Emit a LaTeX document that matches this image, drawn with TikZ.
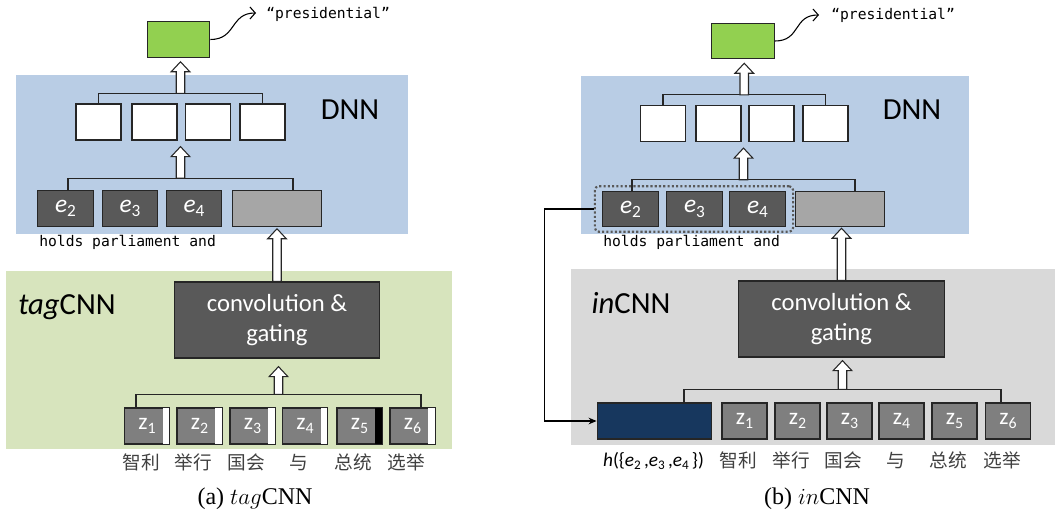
\documentclass[tikz,border=0pt]{standalone}
\usepackage{fontspec}
\setsansfont{Carlito}
\setmonofont{DejaVu Sans Mono}
\newfontfamily\cjk{Noto Sans CJK SC}
\newfontfamily\capfont{Liberation Serif}
\usetikzlibrary{positioning,calc,arrows.meta,fit}
\definecolor{dnnblue}{HTML}{B9CDE5}
\definecolor{tagbg}{HTML}{D7E4BD}
\definecolor{inbg}{HTML}{D9D9D9}
\definecolor{darkbox}{HTML}{595959}
\definecolor{midbox}{HTML}{A6A6A6}
\definecolor{zgray}{HTML}{7F7F7F}
\definecolor{outgreen}{HTML}{92D050}
\definecolor{hblue}{HTML}{17375E}
\definecolor{edge}{HTML}{262626}
\newcommand\idx[2]{#1\raisebox{-.35ex}{\scalebox{.68}{#2}}}
\newcommand\fatarrow[2]{\draw[fatarr] let \p1=(#1), \p2=(#2) in (\x1-3.2pt,\y1) -- (\x1-3.2pt,\y2-7.5pt) -- (\x1-7pt,\y2-7.5pt) -- (\x1,\y2) -- (\x1+7pt,\y2-7.5pt) -- (\x1+3.2pt,\y2-7.5pt) -- (\x1+3.2pt,\y1) -- cycle;}
\tikzset{
    every node/.style={font=\sffamily},
    box/.style={draw=edge, line width=0.9pt, inner sep=0pt, minimum height=27pt},
    outbox/.style={box, fill=outgreen, minimum width=47pt, minimum height=26.5pt},
    hidbox/.style={box, fill=white, minimum width=33.75pt},
    embbox/.style={box, fill=darkbox, text=white, minimum height=26.5pt, minimum width=41.5pt, font=\sffamily\fontsize{19}{19}\selectfont},
    ctxbox/.style={box, fill=midbox, minimum height=26.5pt, minimum width=67pt},
    convbox/.style={box, fill=darkbox, text=white, align=center, minimum width=154pt, minimum height=57pt, font=\sffamily\fontsize{18.5}{22}\selectfont},
    wordbox/.style={box, fill=zgray, text=white, minimum width=33.75pt, font=\sffamily\fontsize{17.5}{17.5}\selectfont},
    hbox/.style={box, fill=hblue, minimum width=86pt},
    title/.style={font=\sffamily\fontsize{23}{23}\selectfont, inner sep=0pt},
    tt/.style={font=\ttfamily\fontsize{11}{11}\selectfont, inner sep=0pt},
    cjkword/.style={font=\cjk\fontsize{14}{14}\selectfont, text=black!75, inner sep=0pt},
    caption/.style={font=\capfont\fontsize{18}{18}\selectfont, inner sep=0pt},
    wire/.style={draw=edge, line width=0.8pt},
    fatarr/.style={draw=edge, fill=white, line width=0.8pt},
    curvy/.style={line width=0.8pt, -{Straight Barb[length=4pt,width=9pt]}},
    dotbox/.style={draw=darkbox, line width=1.6pt, dash pattern=on 1.6pt off 1.6pt, rounded corners=3pt, inner xsep=5.5pt, inner ysep=3.4pt},
    elbow/.style={line width=0.8pt, -{Stealth[length=6pt,width=5pt]}},
}

\begin{document}
\begin{tikzpicture}[x=0.75pt, y=-0.75pt]
  \useasboundingbox (0,0) rectangle (1055,522);
  % (a) tagCNN
  \fill[tagbg] (6,271) rectangle (452,449);
  \fill[dnnblue] (16,75) rectangle (408,234);
  \node[outbox] (lout) at (178.5,39.5) {};
  \node[hidbox] (lh1) at (98.5,122) {};
  \node[hidbox] (lh2) at (154.5,122) {};
  \node[hidbox] (lh3) at (208,122) {};
  \node[hidbox] (lh4) at (262.5,122) {};
  \node[embbox] (le2) at (65.5,208.5) {\idx{\textit{e}}{2}};
  \node[embbox] (le3) at (130,208.5) {\idx{\textit{e}}{3}};
  \node[embbox] (le4) at (194,208.5) {\idx{\textit{e}}{4}};
  \node[ctxbox] (lctx) at (277,208.5) {};
  \node[convbox] (lconv) at (277,320) {convolution \&\\gating};
  \node[wordbox] (lz1) at (147,426) {\idx{z}{1}};
  \node[wordbox] (lz2) at (199.5,426) {\idx{z}{2}};
  \node[wordbox] (lz3) at (252.5,426) {\idx{z}{3}};
  \node[wordbox] (lz4) at (305,426) {\idx{z}{4}};
  \node[wordbox] (lz5) at (359.5,426) {\idx{z}{5}};
  \node[wordbox] (lz6) at (412.5,426) {\idx{z}{6}};
  \fill[white] ($(lz1.north east)+(-7.5,1)$) rectangle ($(lz1.south east)+(-1,-1)$);
  \fill[white] ($(lz2.north east)+(-7.5,1)$) rectangle ($(lz2.south east)+(-1,-1)$);
  \fill[white] ($(lz3.north east)+(-7.5,1)$) rectangle ($(lz3.south east)+(-1,-1)$);
  \fill[white] ($(lz4.north east)+(-7.5,1)$) rectangle ($(lz4.south east)+(-1,-1)$);
  \fill[black] ($(lz5.north east)+(-7.5,1)$) rectangle ($(lz5.south east)+(-1,-1)$);
  \fill[white] ($(lz6.north east)+(-7.5,1)$) rectangle ($(lz6.south east)+(-1,-1)$);
  \node[cjkword] (lc1) at ($(lz1.south)+(-6,18)$) {智利};
  \node[cjkword] (lc2) at ($(lz2.south)+(-6,18)$) {举行};
  \node[cjkword] (lc3) at ($(lz3.south)+(-6,18)$) {国会};
  \node[cjkword] (lc4) at ($(lz4.south)+(-6,18)$) {与};
  \node[cjkword] (lc5) at ($(lz5.south)+(-6,18)$) {总统};
  \node[cjkword] (lc6) at ($(lz6.south)+(-6,18)$) {选举};
  \node[title] (ldnn) at (350,110) {DNN};
  \node[title] (ltag) at (67,307) {\textit{tag}CNN};
  \node[tt, anchor=west] (lwords) at (39,242) {holds parliament and};
  \node[tt, anchor=west] (lpres) at (266,14) {“presidential”};
  \coordinate (lptip) at (256,13);
  \node[caption] (lcap) at (255,499) {(a) $tag$CNN};
    \draw[wire] (lh1.north) -- ++(0,-10) -| coordinate[pos=.25] (ltop) (lh4.north);
    \draw[wire] ($(le2.north)+(2.5,0)$) -- ++(0,-12) -| coordinate[pos=.25] (lbot) ($(lctx.north)+(16,0)$);
    \draw[wire] ($(lz1.north)+(-11,0)$) -- ++(0,-13) -| coordinate[pos=.25] (lzb) ($(lz6.north)+(8.5,0)$);
    \fatarrow{ltop}{$(lout.south)+(0,4)$}
    \fatarrow{lbot}{$(lh2.south)+(0,6)$}
    \fatarrow{lconv.north}{$(lctx.south)+(0,2)$}
    \fatarrow{lzb}{$(lconv.south)+(0,8)$}
    \draw[curvy] (lout.east) .. controls ($(lout.east)+(26,0)$) and ($(lptip)+(-26,0)$) .. (lptip);

  % (b) inCNN
  \fill[inbg] (571,269) rectangle (1055,445);
  \fill[dnnblue] (581,76) rectangle (969,234);
  \node[outbox] (rout) at (743,41) {};
  \node[hidbox] (rh1) at (663,123.5) {};
  \node[hidbox] (rh2) at (718.5,123.5) {};
  \node[hidbox] (rh3) at (771.5,123.5) {};
  \node[hidbox] (rh4) at (825.5,123.5) {};
  \node[embbox] (re2) at (630.5,209) {\idx{\textit{e}}{2}};
  \node[embbox] (re3) at (694.5,209) {\idx{\textit{e}}{3}};
  \node[embbox] (re4) at (757.5,209) {\idx{\textit{e}}{4}};
  \node[ctxbox] (rctx) at (840,209) {};
  \node[dotbox, fit=(re2)(re4)] (rsel) {};
  \node[convbox] (rconv) at (841.5,319) {convolution \&\\gating};
  \node[hbox] (rhh) at (654.5,421) {};
  \node[wordbox] (rz1) at (744.5,421) {\idx{z}{1}};
  \node[wordbox] (rz2) at (797.5,421) {\idx{z}{2}};
  \node[wordbox] (rz3) at (849.5,421) {\idx{z}{3}};
  \node[wordbox] (rz4) at (901.5,421) {\idx{z}{4}};
  \node[wordbox] (rz5) at (954.5,421) {\idx{z}{5}};
  \node[wordbox] (rz6) at (1008,421) {\idx{z}{6}};
  \node[cjkword] (rc1) at ($(rz1.south)+(-6,21)$) {智利};
  \node[cjkword] (rc2) at ($(rz2.south)+(-6,21)$) {举行};
  \node[cjkword] (rc3) at ($(rz3.south)+(-6,21)$) {国会};
  \node[cjkword] (rc4) at ($(rz4.south)+(-6,21)$) {与};
  \node[cjkword] (rc5) at ($(rz5.south)+(-6,21)$) {总统};
  \node[cjkword] (rc6) at ($(rz6.south)+(-6,21)$) {选举};
  \node[font=\sffamily\fontsize{14.5}{14.5}\selectfont, inner sep=0pt] (rhl) at ($(rhh.south)+(-1,21)$) {\textit{h}(\{\idx{\textit{e}}{2}\,,\idx{\textit{e}}{3}\,,\idx{\textit{e}}{4}\,\})};
  \node[title] (rdnn) at (912,110) {DNN};
  \node[title] (rin) at (631,303) {\textit{in}CNN};
  \node[tt, anchor=west] (rwords) at (603,242) {holds parliament and};
  \node[tt, anchor=west] (rpres) at (831,15) {“presidential”};
  \coordinate (rptip) at (819,15);
  \node[caption] (rcap) at (817,499) {(b) $in$CNN};
    \draw[wire] (rh1.north) -- ++(0,-10) -| coordinate[pos=.25] (rtop) (rh4.north);
    \draw[wire] ($(re2.north)+(1.5,0)$) -- ++(0,-11) -| coordinate[pos=.25] (rbot) ($(rctx.north)+(15,0)$);
    \draw[wire] ($(rhh.north)+(29.5,0)$) -- ++(0,-13) -| coordinate[pos=.25] (rzb) ($(rz6.north)+(-7,0)$);
    \fatarrow{rtop}{$(rout.south)+(0,4)$}
    \fatarrow{rbot}{$(rh2.south)+(0,6)$}
    \fatarrow{rconv.north}{$(rctx.south)+(0,1)$}
    \fatarrow{rzb}{$(rconv.south)+(0,3)$}
    \draw[curvy] (rout.east) .. controls ($(rout.east)+(26,0)$) and ($(rptip)+(-26,0)$) .. (rptip);
    \draw[elbow] (rsel.west) -- ++(-49,0) |- (rhh.west);
\end{tikzpicture}
\end{document}
